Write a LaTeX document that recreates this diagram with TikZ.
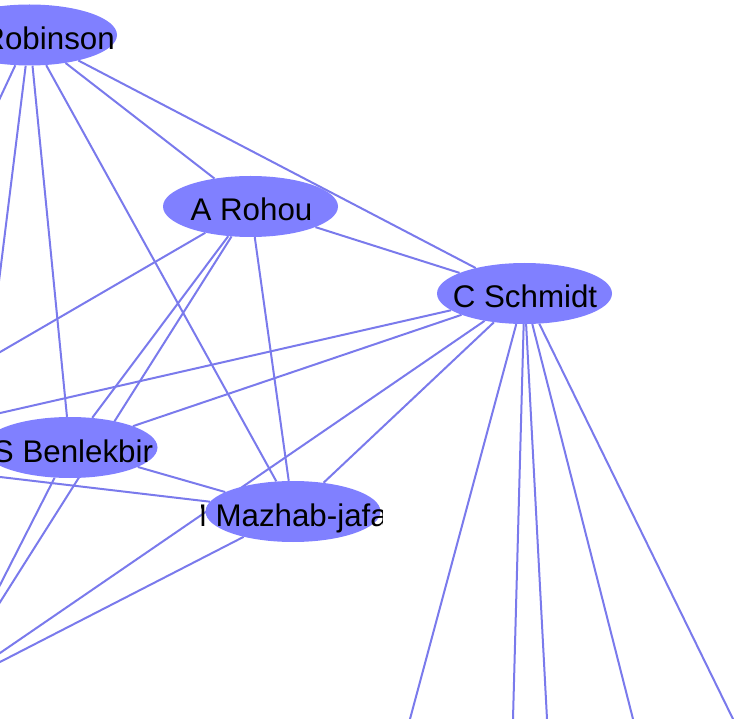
\documentclass[tikz,border=0pt]{standalone}
\usepackage{fontspec}
\setmainfont{Liberation Sans}
\usetikzlibrary{shapes.geometric,backgrounds}
\definecolor{nodefill}{RGB}{128,128,255}
\definecolor{edgecol}{RGB}{122,122,236}
\begin{document}
\begin{tikzpicture}[x=1pt,y=-1pt,
  person/.style={ellipse, fill=nodefill, draw=none, minimum width=175pt, minimum height=61pt, inner sep=0pt},
  lbl/.style={anchor=base, inner sep=0pt, font=\fontsize{31.3}{36}\selectfont, text=black},
  edge/.style={draw=edgecol, line width=2pt}]
\useasboundingbox (0,0) rectangle (734,719);
% nodes
\node[person] (rob) at (29.5,35) {};
\node[person] (roh) at (250.5,206.5) {};
\node[person] (sch) at (524.5,293.5) {};
\node[person] (ben) at (70,447.5) {};
\node[person] (maz) at (293,511.5) {};
% labels
\node[lbl] (robT) at (33,50) {D Robinson};
\node[lbl] (rohT) at (251.5,221) {A Rohou};
\node[lbl] (schT) at (525,308) {C Schmidt};
\node[lbl] (benT) at (73,462) {S Benlekbir};
\begin{scope}
  \clip (201.5,470) rectangle (382,545);
  \node[lbl] (mazT) at (293,526) {M Mazhab-jafari};
\end{scope}
% off-canvas ends
\coordinate (f1) at (-59,224);
\coordinate (f2) at (-29.5,511);
\coordinate (f3) at (-75,395.7);
\coordinate (f4) at (-75,720.7);
\coordinate (f5) at (-105,437);
\coordinate (f6) at (-105,725);
\coordinate (d1) at (387.1,804.1);
\coordinate (d2) at (510.7,804.1);
\coordinate (d3) at (551.5,804.1);
\coordinate (d4) at (654.7,804.1);
\coordinate (d5) at (774.7,804.1);
\coordinate (f7) at (-35,653.75);
\coordinate (f8) at (-50,471.1);
\coordinate (f9) at (-58.6,692.1);
% edges
\begin{scope}[on background layer]
  \clip (0,0) rectangle (734,719);
  \draw[edge] (rob) -- (f1);
  \draw[edge] (rob) -- (f2);
  \draw[edge] (rob) -- (ben);
  \draw[edge] (rob) -- (maz);
  \draw[edge] (rob) -- (roh);
  \draw[edge] (rob) -- (sch);
  \draw[edge] (roh) -- (sch);
  \draw[edge] (roh) -- (f3);
  \draw[edge] (roh) -- (f4);
  \draw[edge] (roh) -- (ben);
  \draw[edge] (roh) -- (maz);
  \draw[edge] (sch) -- (f5);
  \draw[edge] (sch) -- (f6);
  \draw[edge] (sch) -- (ben);
  \draw[edge] (sch) -- (maz);
  \draw[edge] (sch) -- (d1);
  \draw[edge] (sch) -- (d2);
  \draw[edge] (sch) -- (d3);
  \draw[edge] (sch) -- (d4);
  \draw[edge] (sch) -- (d5);
  \draw[edge] (ben) -- (f7);
  \draw[edge] (ben) -- (maz);
  \draw[edge] (f8) -- (maz);
  \draw[edge] (maz) -- (f9);
\end{scope}
\end{tikzpicture}
\end{document}
